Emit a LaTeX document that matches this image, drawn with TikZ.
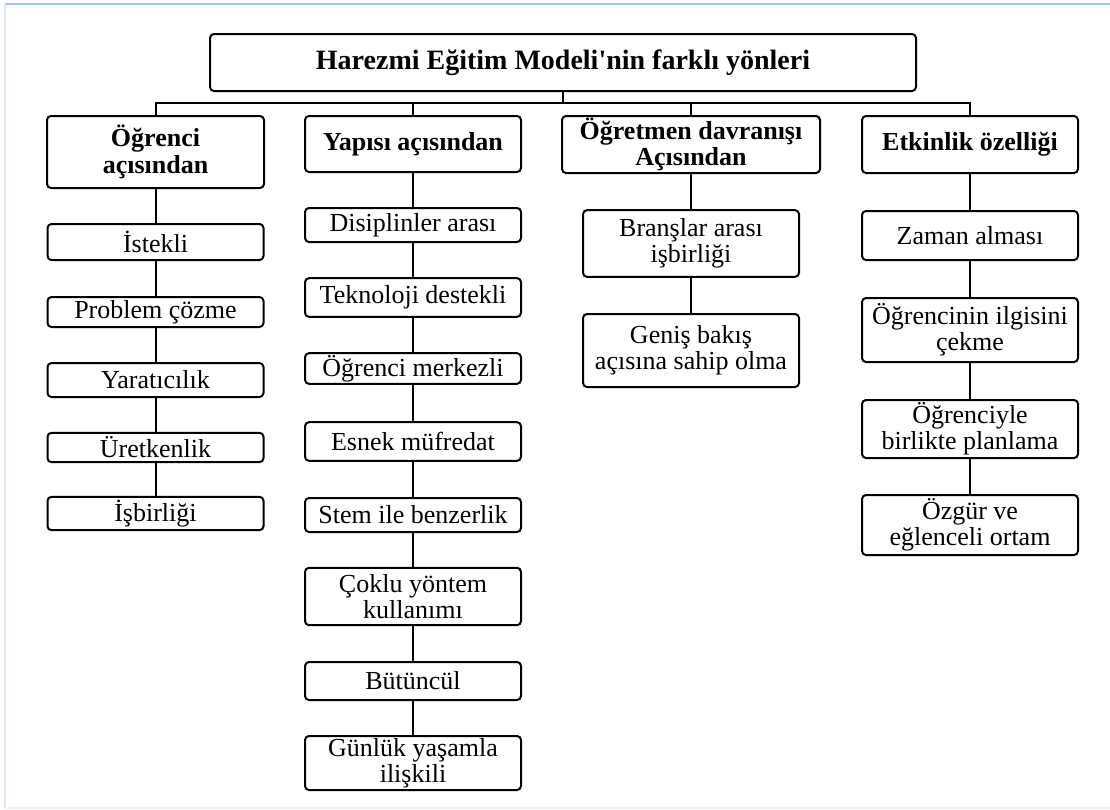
\documentclass[tikz,border=0pt]{standalone}
\usepackage{fontspec}
\setmainfont{Liberation Serif}
\newfontfamily\duzyazi{Liberation Serif}[Ligatures=TeXOff]
\definecolor{cerceve}{HTML}{9DC3F7}
\definecolor{cerceveacik}{HTML}{DCE5F8}
\tikzset{
	kutu/.style={draw, line width=1.5pt, rounded corners=3pt, fill=white, align=center, inner sep=0pt},
	baslik/.style={kutu, font=\fontsize{21}{24}\selectfont\bfseries},
	ana/.style={kutu, font=\fontsize{19.5}{20}\selectfont\bfseries},
	alt/.style={kutu, minimum width=162pt, font=\fontsize{19.5}{19.5}\selectfont},
	hat/.style={line width=1.5pt}
}
\begin{document}
\begin{tikzpicture}[x=0.75pt,y=-0.75pt]
	\useasboundingbox (0,0) rectangle (1110,810);
	% cerceve
	\draw[cerceve, line width=2.2pt] (5,4) -- (1110,4);
	\draw[cerceveacik, line width=2.2pt] (5,4) -- (5,808);
	\draw[cerceveacik!50, line width=1.5pt] (5,808) -- (1110,808);

	% ust kutu
	\node[baslik, minimum width=529.5pt, minimum height=42.75pt] (model) at (563,62.5) {Harezmi Eğitim Modeli{\duzyazi\bfseries '}nin farklı yönleri};
	\coordinate (bus) at (563,103);

	% dort yon
	\node[ana, minimum width=162.75pt, minimum height=54pt] (ogrenci) at (155.5,152) {Öğrenci\\açısından};
	\node[ana, minimum width=162pt, minimum height=42pt] (yapi) at (413,144) {Yapısı açısından};
	\node[ana, minimum width=193.5pt, minimum height=42.75pt] (ogretmen) at (691,144.5) {Öğretmen davranışı\\Açısından};
	\node[ana, minimum width=162pt, minimum height=42.75pt] (etkinlik) at (970,144.5) {Etkinlik özelliği};

	\draw[hat] (model.south) -- (bus);
	\draw[hat] (ogrenci.north) |- (bus) -| (etkinlik.north);
	\draw[hat] (yapi.north) -- (yapi.north |- bus);
	\draw[hat] (ogretmen.north) -- (ogretmen.north |- bus);

	% ogrenci acisindan
	\node[alt, minimum height=27pt] (istekli) at (155.5,242) {İstekli};
	\node[alt, minimum height=22.5pt] (problem) at (155.5,312) {Problem çözme};
	\node[alt, minimum height=25.5pt] (yaraticilik) at (155.5,380) {Yaratıcılık};
	\node[alt, minimum height=22pt] (uretkenlik) at (155.5,447.5) {Üretkenlik};
	\node[alt, minimum height=25pt] (isbirligi) at (155.5,513.5) {İşbirliği};

	\draw[hat] (ogrenci.south) -- (ogrenci.south |- istekli.north);
	\draw[hat] (istekli) -- (problem);
	\draw[hat] (problem) -- (yaraticilik);
	\draw[hat] (yaraticilik) -- (uretkenlik);
	\draw[hat] (uretkenlik) -- (isbirligi);

	% yapisi acisindan
	\node[alt, minimum height=25.5pt] (disiplin) at (413,225) {Disiplinler arası};
	\node[alt, minimum height=29pt] (teknoloji) at (413,297.5) {Teknoloji destekli};
	\node[alt, minimum height=23pt] (merkezli) at (413,368.5) {Öğrenci merkezli};
	\node[alt, minimum height=29pt] (esnek) at (413,441.5) {Esnek müfredat};
	\node[alt, minimum height=25.5pt] (stem) at (413,515) {Stem ile benzerlik};
	\node[alt, minimum height=43pt] (coklu) at (413,596.5) {Çoklu yöntem\\kullanımı};
	\node[alt, minimum height=28.5pt] (butuncul) at (413,681) {Bütüncül};
	\node[alt, minimum height=40.5pt] (gunluk) at (413,763) {Günlük yaşamla\\ilişkili};

	\draw[hat] (yapi) -- (disiplin);
	\draw[hat] (disiplin) -- (teknoloji);
	\draw[hat] (teknoloji) -- (merkezli);
	\draw[hat] (merkezli) -- (esnek);
	\draw[hat] (esnek) -- (stem);
	\draw[hat] (stem) -- (coklu);
	\draw[hat] (coklu) -- (butuncul);
	\draw[hat] (butuncul) -- (gunluk);

	% ogretmen davranisi
	\node[alt, minimum height=50pt] (brans) at (691,243.5) {Branşlar arası\\işbirliği};
	\node[alt, minimum height=54.75pt] (genis) at (691,350.5) {Geniş bakış\\açısına sahip olma};

	\draw[hat] (ogretmen) -- (brans);
	\draw[hat] (brans) -- (genis);

	% etkinlik ozelligi
	\node[alt, minimum height=36.75pt] (zaman) at (970,235.5) {Zaman alması};
	\node[alt, minimum height=48pt] (ilgi) at (970,330) {Öğrencinin ilgisini\\çekme};
	\node[alt, minimum height=43.5pt] (planlama) at (970,429) {Öğrenciyle\\birlikte planlama};
	\node[alt, minimum height=45pt] (ortam) at (970,525) {Özgür ve\\eğlenceli ortam};

	\draw[hat] (etkinlik) -- (zaman);
	\draw[hat] (zaman) -- (ilgi);
	\draw[hat] (ilgi) -- (planlama);
	\draw[hat] (planlama) -- (ortam);
\end{tikzpicture}
\end{document}
